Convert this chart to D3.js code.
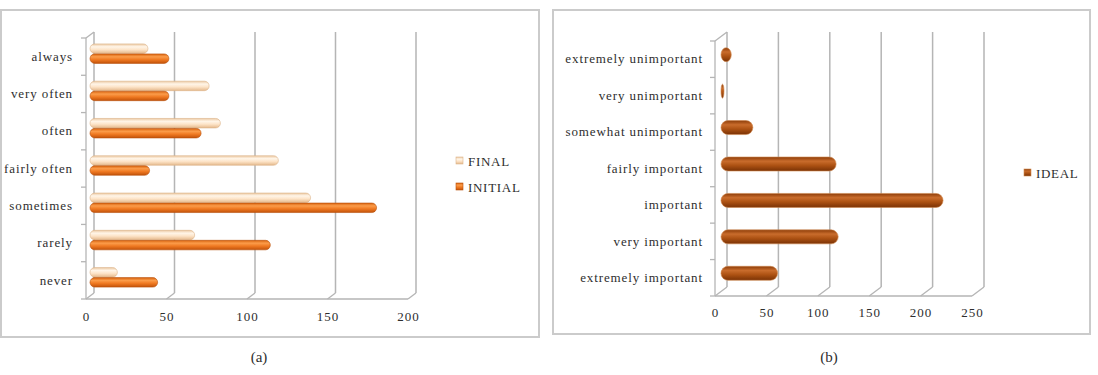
<!DOCTYPE html>
<html>
<head>
<meta charset="utf-8">
<script src="https://cdn.jsdelivr.net/npm/d3@7"></script>
<style>
body { margin: 0; background: #fff; }
text { font-family: "Liberation Serif", "DejaVu Serif", serif; fill: #2e2e2e; }
</style>
</head>
<body>
<svg id="chart"></svg>
<script>
// panel (a): frequency, initial vs final
var freqCategories = ["always", "very often", "often", "fairly often", "sometimes", "rarely", "never"];
var finalValues   = [36, 74, 81, 117, 137, 65, 17];
var initialValues = [49, 49, 69, 37, 178, 112, 42];
var freqTicks = [0, 50, 100, 150, 200];

// panel (b): importance, ideal
var importanceCategories = ["extremely unimportant", "very unimportant", "somewhat unimportant",
	"fairly important", "important", "very important", "extremely important"];
var idealValues = [10, 2, 31, 112, 216, 114, 55];
var importanceTicks = [0, 50, 100, 150, 200, 250];

var serif = "'Liberation Serif', 'DejaVu Serif', serif";

var svg = d3.select("#chart")
	.attr("width", 1098)
	.attr("height", 375);

svg.append("rect")
	.attr("width", 1098)
	.attr("height", 375)
	.attr("fill", "#fff");

var defs = svg.append("defs");

// vertical gradient to fake the cylinder shading
function cylGradient(id, stops) {
	defs.append("linearGradient")
		.attr("id", id)
		.attr("x1", 0).attr("x2", 0)
		.attr("y1", 0).attr("y2", 1)
		.selectAll("stop")
		.data(stops)
		.enter()
		.append("stop")
		.attr("offset", function(d) { return d[0]; })
		.attr("stop-color", function(d) { return d[1]; });
}
cylGradient("gFinal",   [["0%", "#ecc9a3"], ["30%", "#fff5e8"], ["60%", "#fde4c8"], ["100%", "#e5b98c"]]);
cylGradient("gInitial", [["0%", "#d8630e"], ["30%", "#fb9c4a"], ["60%", "#f07a22"], ["100%", "#c2520a"]]);
cylGradient("gIdeal",   [["0%", "#8d3c08"], ["30%", "#c96c2c"], ["60%", "#ad5213"], ["100%", "#7a3205"]]);

var gridColor = "#b5b5b5";

function drawPanel(p) {
	var g = svg.append("g");

	// frame
	g.append("rect")
		.attr("x", p.box[0]).attr("y", p.box[1])
		.attr("width", p.box[2]).attr("height", p.box[3])
		.attr("fill", "none")
		.attr("stroke", "#cbcbcb")
		.attr("stroke-width", 2);

	var xFront = d3.scaleLinear().domain([0, p.xMax]).range([p.x0, p.x1]);
	var xBack = function(v) { return xFront(v) + p.dx; };
	var xBar = function(v) { return xFront(v) + p.dx / 2; };	// bars sit half way in depth

	var y = d3.scaleBand()
		.domain(p.categories)
		.range([p.yTop, p.yBottom]);

	var inner = d3.scaleBand()
		.domain(p.series.map(function(s) { return s.name; }))
		.range([0, p.series.length * p.barH + (p.series.length - 1) * p.barGap])
		.paddingInner(p.series.length > 1 ? p.barGap / (p.barH + p.barGap) : 0);

	// back wall gridlines
	g.append("g")
		.selectAll("line")
		.data(p.ticks)
		.enter()
		.append("line")
		.attr("x1", xBack).attr("x2", xBack)
		.attr("y1", p.yTop - p.dy)
		.attr("y2", p.yBottom - p.dy)
		.attr("stroke", gridColor)
		.attr("stroke-width", 1.5);

	// floor diagonals
	g.append("g")
		.selectAll("line")
		.data(p.ticks)
		.enter()
		.append("line")
		.attr("x1", xFront).attr("x2", xBack)
		.attr("y1", p.yBottom)
		.attr("y2", p.yBottom - p.dy)
		.attr("stroke", gridColor)
		.attr("stroke-width", 1.3);

	// front floor edge
	g.append("line")
		.attr("x1", xFront(0)).attr("x2", xFront(p.xMax))
		.attr("y1", p.yBottom).attr("y2", p.yBottom)
		.attr("stroke", gridColor)
		.attr("stroke-width", 1.3);

	// side wall: front edge + top diagonal
	g.append("line")
		.attr("x1", xFront(0)).attr("x2", xFront(0))
		.attr("y1", p.yTop).attr("y2", p.yBottom)
		.attr("stroke", gridColor)
		.attr("stroke-width", 1.3);
	g.append("line")
		.attr("x1", xFront(0)).attr("x2", xBack(0))
		.attr("y1", p.yTop).attr("y2", p.yTop - p.dy)
		.attr("stroke", gridColor)
		.attr("stroke-width", 1.3);

	// category ticks on band boundaries
	var bounds = p.categories.map(function(c) { return y(c); }).concat([p.yBottom]);
	g.append("g")
		.selectAll("line")
		.data(bounds)
		.enter()
		.append("line")
		.attr("x1", xFront(0) - 5).attr("x2", xFront(0))
		.attr("y1", function(d) { return d; })
		.attr("y2", function(d) { return d; })
		.attr("stroke", gridColor)
		.attr("stroke-width", 1.3);

	// bars
	p.series.forEach(function(s) {
		var rows = p.categories.map(function(c, i) { return {cat: c, v: s.values[i]}; });
		g.append("g")
			.selectAll("rect")
			.data(rows)
			.enter()
			.append("rect")
			.attr("x", xBar(0))
			.attr("y", function(d) {
				var groupTop = y(d.cat) + y.bandwidth() / 2 - p.dy / 2 - inner.range()[1] / 2;
				return groupTop + inner(s.name);
			})
			.attr("width", function(d) { return Math.max(xBar(d.v) - xBar(0), 3); })
			.attr("height", inner.bandwidth())
			.attr("rx", function(d) { return Math.min(Math.max(xBar(d.v) - xBar(0), 3) / 2, inner.bandwidth() / 2); })
			.attr("ry", inner.bandwidth() / 2)
			.attr("fill", "url(#" + s.grad + ")")
			.attr("stroke", s.edge)
			.attr("stroke-width", 0.6);
	});

	// value axis labels
	var xAxis = d3.axisBottom(xFront)
		.tickValues(p.ticks)
		.tickSize(0)
		.tickPadding(p.tickPad);
	var ax = g.append("g")
		.attr("transform", "translate(0," + p.yBottom + ")")
		.attr("font-family", serif)
		.attr("font-size", 13)
		.call(xAxis);
	ax.select(".domain").remove();
	ax.selectAll("text")
		.attr("fill", "#2e2e2e")
		.style("letter-spacing", "1px");

	// category labels
	var yAxis = d3.axisLeft(y)
		.tickSize(0)
		.tickPadding(0);
	var ay = g.append("g")
		.attr("transform", "translate(" + p.labelRight + ",0)")
		.call(yAxis)
		.attr("font-family", serif)
		.attr("font-size", 13);
	ay.select(".domain").remove();
	ay.selectAll("text")
		.attr("fill", "#2e2e2e")
		.style("letter-spacing", "0.9px");
	ax.attr("font-family", serif).attr("font-size", 13);

	// legend
	var lg = g.append("g")
		.selectAll("g")
		.data(p.series)
		.enter()
		.append("g")
		.attr("transform", function(d, i) { return "translate(" + p.legend[0] + "," + (p.legend[1] + i * 26) + ")"; });
	lg.append("rect")
		.attr("x", 0).attr("y", -4)
		.attr("width", 7).attr("height", 7)
		.attr("fill", function(d) { return "url(#" + d.grad + ")"; })
		.attr("stroke", function(d) { return d.edge; })
		.attr("stroke-width", 0.6);
	lg.append("text")
		.attr("x", 12)
		.attr("y", 4.5)
		.attr("font-family", serif)
		.style("font-size", "13px")
		.style("letter-spacing", "0.7px")
		.text(function(d) { return d.name; });

	// caption
	svg.append("text")
		.attr("x", p.caption[0])
		.attr("y", p.caption[1])
		.attr("text-anchor", "middle")
		.attr("font-family", serif)
		.style("font-size", "15px")
		.attr("fill", "#222")
		.text(p.captionText);
}

drawPanel({
	box: [1, 10, 538, 327],
	categories: freqCategories,
	ticks: freqTicks,
	xMax: 200,
	x0: 86, x1: 408,
	dx: 8, dy: 6,
	yTop: 38, yBottom: 299,
	barH: 9.5, barGap: 0.5,
	tickPad: 13,
	labelRight: 73,
	legend: [456, 161],
	caption: [259, 362],
	captionText: "(a)",
	series: [
		{name: "FINAL", values: finalValues, grad: "gFinal", edge: "#dcb48a"},
		{name: "INITIAL", values: initialValues, grad: "gInitial", edge: "#b9500c"}
	]
});

drawPanel({
	box: [553, 10, 537, 324],
	categories: importanceCategories,
	ticks: importanceTicks,
	xMax: 250,
	x0: 715, x1: 972,
	dx: 12, dy: 9,
	yTop: 41, yBottom: 296,
	barH: 14, barGap: 0,
	tickPad: 12,
	labelRight: 703,
	legend: [1024, 173],
	caption: [829, 362],
	captionText: "(b)",
	series: [
		{name: "IDEAL", values: idealValues, grad: "gIdeal", edge: "#d08a50"}
	]
});
</script>
</body>
</html>
